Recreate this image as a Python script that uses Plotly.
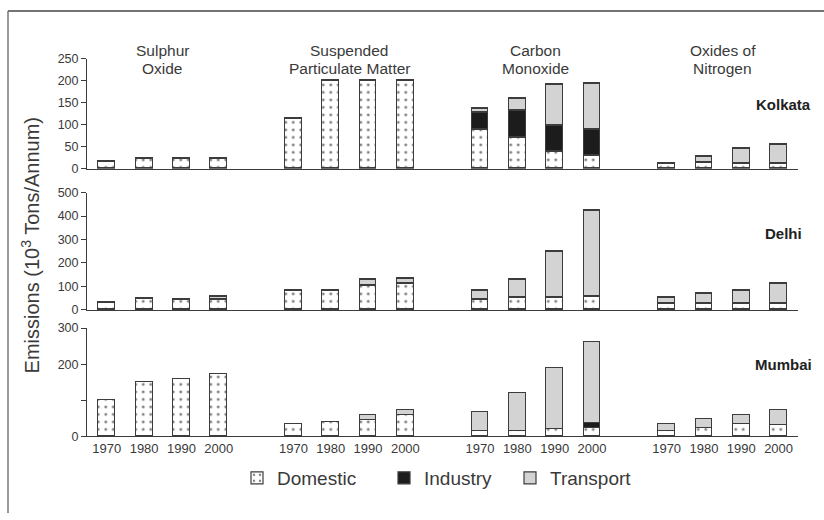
import plotly.graph_objects as go

years = ["1970", "1980", "1990", "2000"]
pollutants = ["Sulphur<br>Oxide", "Suspended<br>Particulate Matter",
              "Carbon<br>Monoxide", "Oxides of<br>Nitrogen"]
cities = ["Kolkata", "Delhi", "Mumbai"]
sources = ["Domestic", "Industry", "Transport"]

# values ordered: SO x4 years, SPM x4, CO x4, NOx x4
kolkata_domestic = [16, 24, 23, 23, 115, 200, 200, 200, 89, 70, 38, 29, 13, 14, 13, 12]
kolkata_industry = [0, 0, 0, 0, 0, 0, 0, 0, 38, 63, 61, 60, 0, 0, 0, 0]
kolkata_transport = [0, 0, 0, 0, 0, 0, 0, 0, 10, 26, 93, 105, 0, 13, 32, 43]

delhi_domestic = [33, 47, 44, 43, 84, 84, 105, 113, 43, 51, 51, 59, 26, 28, 29, 28]
delhi_industry = [0] * 16
delhi_transport = [0, 0, 0, 16, 0, 0, 25, 21, 38, 79, 199, 364, 25, 40, 55, 85]

mumbai_domestic = [100, 151, 159, 172, 33, 40, 44, 59, 16, 15, 20, 23, 16, 24, 33, 31]
mumbai_industry = [0, 0, 0, 0, 0, 0, 0, 0, 0, 0, 0, 15, 0, 0, 0, 0]
mumbai_transport = [0, 0, 0, 0, 0, 0, 15, 13, 50, 104, 168, 222, 17, 25, 27, 42]

y_ticks_kolkata = [0, 50, 100, 150, 200, 250]
y_ticks_delhi = [0, 100, 200, 300, 400, 500]
y_ticks_mumbai = [0, 200, 300]
y_minor_mumbai = [100]

city_data = [
    (kolkata_domestic, kolkata_industry, kolkata_transport),
    (delhi_domestic, delhi_industry, delhi_transport),
    (mumbai_domestic, mumbai_industry, mumbai_transport),
]

W, H = 824, 520
TXT = "#3a3a3a"
LINE = "#3c3c3c"
FONT = "Liberation Sans, Arial, sans-serif"

slots = [p * 5 + y for p in range(len(pollutants)) for y in range(len(years))]
slot_labels = [years[y] for p in range(len(pollutants)) for y in range(len(years))]

fills = {"Domestic": "white", "Industry": "#1c1c1c", "Transport": "#d3d3d3"}
legend_ids = {"Domestic": "legend", "Industry": "legend2", "Transport": "legend3"}


def px_x(x):
    return x / W


def px_y(y):
    return 1 - y / H


fig = go.Figure()
for ci, vals in enumerate(city_data):
    xa = "x" if ci == 0 else f"x{ci+1}"
    ya = "y" if ci == 0 else f"y{ci+1}"
    for si, src in enumerate(sources):
        v = [val if val else None for val in vals[si]]
        marker = dict(color=fills[src], line=dict(color=LINE, width=1.2))
        if src == "Domestic":
            marker["pattern"] = dict(shape=".", fgcolor="#000000", bgcolor="white",
                                     size=7.5, solidity=0.12, fillmode="overlay")
        fig.add_trace(go.Bar(
            x=slots, y=v, name=src, xaxis=xa, yaxis=ya, width=0.45,
            marker=marker, legend=legend_ids[src], showlegend=(ci == 0),
            hoverinfo="skip"))

xdom = [px_x(87), px_x(798)]
ydoms = [
    [px_y(166.3), px_y(53)],
    [px_y(311.3), px_y(190.7)],
    [px_y(441.3), px_y(330)],
]
yranges = [[0, 250], [0, 500], [0, 300]]
ytickvals = [y_ticks_kolkata, y_ticks_delhi, y_ticks_mumbai]
yminor = [[], [], y_minor_mumbai]

legend_text_start = {"Domestic": 277, "Industry": 424, "Transport": 550}

layout = dict(
    width=W, height=H, margin=dict(l=0, r=0, t=0, b=0),
    paper_bgcolor="white", plot_bgcolor="white",
    barmode="stack", bargap=0,
    font=dict(family=FONT, color=TXT, size=12),
)
for src in sources:
    layout[legend_ids[src]] = dict(
        orientation="h", x=px_x(legend_text_start[src] - 40), xanchor="left",
        y=px_y(484), yanchor="middle", font=dict(size=19, color=TXT),
        itemwidth=30, bgcolor="rgba(0,0,0,0)")
for ci in range(3):
    xk = "xaxis" if ci == 0 else f"xaxis{ci+1}"
    yk = "yaxis" if ci == 0 else f"yaxis{ci+1}"
    ya = "y" if ci == 0 else f"y{ci+1}"
    xa = "x" if ci == 0 else f"x{ci+1}"
    layout[xk] = dict(
        domain=xdom, anchor=ya, range=[-0.53, 18.52], showgrid=False,
        zeroline=False, showline=True, linecolor=LINE, linewidth=1,
        ticks="", tickvals=slots, ticktext=slot_labels,
        showticklabels=(ci == 2), tickfont=dict(size=13, color=TXT),
        fixedrange=True)
    yax = dict(
        domain=ydoms[ci], anchor=xa, range=yranges[ci], showgrid=False,
        zeroline=False, showline=True, linecolor=LINE, linewidth=1,
        ticks="outside", ticklen=5, tickcolor=LINE, tickwidth=1,
        tickvals=ytickvals[ci], ticktext=[str(t) for t in ytickvals[ci]],
        tickfont=dict(size=12.5, color=TXT), fixedrange=True)
    if yminor[ci]:
        yax["minor"] = dict(tickvals=yminor[ci], ticks="outside", ticklen=5,
                            tickcolor=LINE, tickwidth=1, showgrid=False)
    layout[yk] = yax
fig.update_layout(**layout)

annotations = []
for pi, name in enumerate(pollutants):
    cx = pi * 5 + 1.5
    for li, line in enumerate(name.split("<br>")):
        annotations.append(dict(x=cx, xref="x", y=px_y(45 + 18 * li), yref="paper",
                                text=line, showarrow=False, xanchor="center",
                                yanchor="middle",
                                font=dict(size=15.5, color=TXT)))
city_y = [100, 233, 367]
for ci, c in enumerate(cities):
    annotations.append(dict(x=px_x(783), xref="paper", y=px_y(city_y[ci]),
                            yref="paper", text=f"<b>{c}</b>", showarrow=False,
                            xanchor="center", yanchor="middle",
                            font=dict(size=15, color="#222222")))
annotations.append(dict(x=px_x(30), xref="paper", y=px_y(245), yref="paper",
                        text="Emissions (10<sup>3</sup> Tons/Annum)",
                        showarrow=False, textangle=-90, xanchor="center",
                        yanchor="middle", font=dict(size=20, color=TXT)))
fig.update_layout(annotations=annotations)

fig.update_layout(shapes=[
    dict(type="line", xref="paper", yref="paper", x0=px_x(8), x1=1,
         y0=px_y(4), y1=px_y(4), line=dict(color="#444444", width=1.5)),
    dict(type="line", xref="paper", yref="paper", x0=px_x(8), x1=px_x(8),
         y0=0, y1=px_y(4), line=dict(color="#777777", width=1.5)),
])

fig.write_html("out.html", config={"displayModeBar": False},
               post_script="document.body.style.margin='0px';")
